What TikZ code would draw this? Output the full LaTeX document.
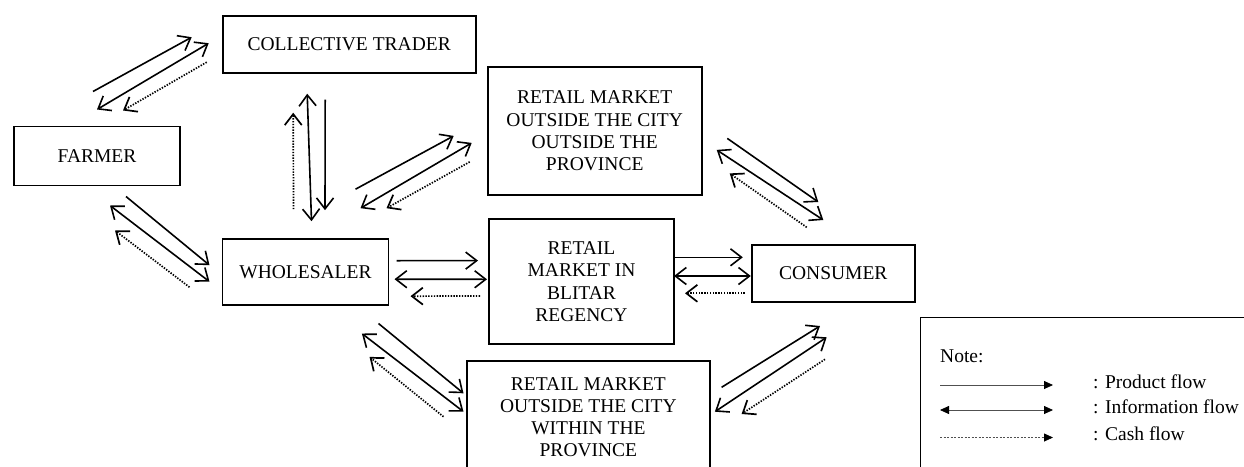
\documentclass[tikz,border=0pt]{standalone}
\usepackage{fontspec}
\setmainfont{Liberation Serif}
\usepackage{tikz}
\usetikzlibrary{arrows.meta,positioning}
\definecolor{notegray}{RGB}{80,80,80}
\tikzset{barb/.tip={Straight Barb[length=11pt,width=17pt]},
  legtip/.tip={Triangle[length=9pt,width=8pt,color=black]}}
\tikzstyle{box} = [draw, line width=1.8pt, outer sep=0pt, inner sep=0pt, align=center, font=\fontsize{19.5}{22.2}\selectfont]
\tikzstyle{product} = [line width=1.6pt, -barb]
\tikzstyle{info} = [line width=1.6pt, barb-barb]
\tikzstyle{cash} = [line width=1.7pt, dash pattern=on 1.4pt off 1.4pt, -barb]
\tikzstyle{legline} = [line width=0.8pt, color=notegray]

\begin{document}
\begin{tikzpicture}[x=1pt,y=-1pt]
\useasboundingbox (0,0) rectangle (1244,466);
\clip (0,0) rectangle (1244,466);

% Actors in the chain
\node[box, minimum width=166pt, minimum height=59pt] (farmer) at (97,156) {FARMER};
\node[box, minimum width=253pt, minimum height=57pt] (ct) at (349.2,44.2) {COLLECTIVE TRADER};
\node[box, minimum width=166pt, minimum height=66pt] (wholesaler) at (305.5,272.2) {WHOLESALER};
\node[box, minimum width=214pt, minimum height=128pt] (rmout) at (594.7,130.9) {RETAIL MARKET\\OUTSIDE THE CITY\\OUTSIDE THE\\PROVINCE};
\node[box, minimum width=185pt, minimum height=125pt] (rmblitar) at (581.5,281.6) {RETAIL\\MARKET IN\\BLITAR\\REGENCY};
\node[box, minimum width=163pt, minimum height=57pt] (consumer) at (833.3,273.5) {CONSUMER};
\node[box, minimum width=243pt, minimum height=113pt] (rmin) at (588.4,417.2) {RETAIL MARKET\\OUTSIDE THE CITY\\WITHIN THE\\PROVINCE};

% Farmer - collective trader
\draw[product] ([shift={(-4,-35)}]farmer.north) -- ([shift={(-31,-7)}]ct.west);
\draw[info] ([shift={(0,-17)}]farmer.north) -- ([shift={(-14,-1)}]ct.west);
\draw[cash] ([shift={(-16,18)}]ct.west) -- ([shift={(26,-16)}]farmer.north);

% Collective trader - wholesaler
\draw[cash] ([shift={(-12,-30)}]wholesaler.north) -- ([shift={(-56,40)}]ct.south);
\draw[info] ([shift={(-42,21)}]ct.south) -- ([shift={(6,-18)}]wholesaler.north);
\draw[product] ([shift={(-24,27)}]ct.south) -- ([shift={(19.5,-29)}]wholesaler.north);

% Farmer - wholesaler
\draw[product] ([shift={(29,11)}]farmer.south) -- ([shift={(-13,-7)}]wholesaler.west);
\draw[info] ([shift={(13,20)}]farmer.south) -- ([shift={(-13,9.5)}]wholesaler.west);
\draw[cash] ([shift={(-33,15)}]wholesaler.west) -- ([shift={(18,45)}]farmer.south);

% Wholesaler - retail outside the province
\draw[product] ([shift={(-33,-50)}]wholesaler.north east) -- ([shift={(-34,5)}]rmout.west);
\draw[info] ([shift={(-28,-31)}]wholesaler.north east) -- ([shift={(-16,12)}]rmout.west);
\draw[cash] ([shift={(-18,31)}]rmout.west) -- ([shift={(-2,-31)}]wholesaler.north east);

% Wholesaler - retail Blitar
\draw[product] ([shift={(8,-11.5)}]wholesaler.east) -- ([shift={(-11,-21)}]rmblitar.west);
\draw[info] ([shift={(6,7)}]wholesaler.east) -- ([shift={(-2,-2.3)}]rmblitar.west);
\draw[cash] ([shift={(-9,14.3)}]rmblitar.west) -- ([shift={(22,24)}]wholesaler.east);

% Wholesaler - retail within the province
\draw[product] ([shift={(-10,18.3)}]wholesaler.south east) -- ([shift={(-3.4,32.6)}]rmin.north west);
\draw[info] ([shift={(-26.6,28.3)}]wholesaler.south east) -- ([shift={(-3.4,51)}]rmin.north west);
\draw[cash] ([shift={(-23.4,56)}]rmin.north west) -- ([shift={(-19,51.7)}]wholesaler.south east);

% Retail markets - consumer
\draw[product] ([shift={(25.6,7.5)}]rmout.east) -- ([shift={(-15,-43)}]consumer.north);
\draw[info] ([shift={(15,19)}]rmout.east) -- ([shift={(-10,-25)}]consumer.north);
\draw[cash] ([shift={(-26.6,-17.7)}]consumer.north) -- ([shift={(28,42.5)}]rmout.east);

\draw[product] ([shift={(0,-24.3)}]rmblitar.east) -- ([shift={(-9,-16.2)}]consumer.west);
\draw[info] ([shift={(0,-5.6)}]rmblitar.east) -- ([shift={(-1,2.5)}]consumer.west);
\draw[cash] ([shift={(-7,19.8)}]consumer.west) -- ([shift={(11,11.7)}]rmblitar.east);

\draw[product] ([shift={(11.7,26.6)}]rmin.north east) -- ([shift={(-13.3,24)}]consumer.south);
\draw[info] ([shift={(5,51)}]rmin.north east) -- ([shift={(-6.6,35.3)}]consumer.south);
\draw[cash] ([shift={(-8.3,57.3)}]consumer.south) -- ([shift={(31.7,53.3)}]rmin.north east);

% Note
\draw[line width=1.5pt] (920.7,317.3) rectangle (1270,490);
\begin{scope}[every node/.style={anchor=west, inner sep=0pt, font=\fontsize{19.5}{22.2}\selectfont}]
\node (note) at (940,356) {Note:};
\node (prodlbl) at (1093,382) {: Product flow};
\node (infolbl) at (1093,407) {: Information flow};
\node (cashlbl) at (1093,434) {: Cash flow};
\end{scope}
\draw[legline, -legtip] ([shift={(-153,3)}]prodlbl.west) -- ([shift={(-40,3)}]prodlbl.west);
\draw[legline, legtip-legtip] ([shift={(-153,3)}]infolbl.west) -- ([shift={(-40,3)}]infolbl.west);
\draw[legline, dash pattern=on 2pt off 1.5pt, -legtip] ([shift={(-153,3.5)}]cashlbl.west) -- ([shift={(-40,3.5)}]cashlbl.west);
\end{tikzpicture}
\end{document}
